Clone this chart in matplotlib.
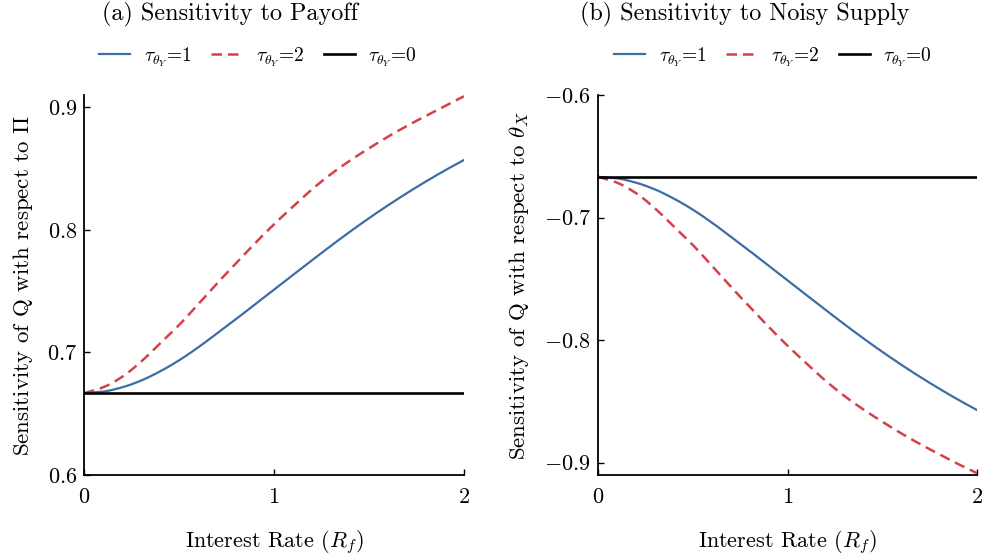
import matplotlib
matplotlib.use("Agg")
import matplotlib.pyplot as plt
import numpy as np

plt.rcParams['font.family'] = ['cmr10', 'DejaVu Serif']
plt.rcParams['mathtext.fontset'] = 'cm'
plt.rcParams['axes.formatter.use_mathtext'] = True
plt.rcParams['axes.unicode_minus'] = True

# Data
x_vals = [0.0, 0.1, 0.2, 0.3, 0.4, 0.5, 0.6, 0.7, 0.8, 0.9, 1.0,
          1.1, 1.2, 1.3, 1.4, 1.5, 1.6, 1.7, 1.8, 1.9, 2.0]

payoff_tau1 = [0.6667, 0.6680, 0.6715, 0.6770, 0.6845, 0.6935, 0.7040, 0.7155, 0.7272, 0.7392, 0.7512,
               0.7632, 0.7752, 0.7870, 0.7985, 0.8095, 0.8200, 0.8300, 0.8395, 0.8485, 0.8570]
payoff_tau2 = [0.6667, 0.6715, 0.6800, 0.6924, 0.7073, 0.7223, 0.7392, 0.7563, 0.7727, 0.7890, 0.8045,
               0.8190, 0.8330, 0.8455, 0.8565, 0.8665, 0.8760, 0.8848, 0.8930, 0.9010, 0.9090]
payoff_tau0 = [0.6667] * 21

supply_tau1 = [-0.6667, -0.6680, -0.6715, -0.6770, -0.6845, -0.6935, -0.7040, -0.7155, -0.7272, -0.7392, -0.7512,
               -0.7632, -0.7752, -0.7870, -0.7985, -0.8095, -0.8200, -0.8300, -0.8395, -0.8485, -0.8570]
supply_tau2 = [-0.6667, -0.6715, -0.6800, -0.6924, -0.7073, -0.7223, -0.7392, -0.7563, -0.7727, -0.7890, -0.8045,
               -0.8190, -0.8330, -0.8455, -0.8565, -0.8665, -0.8760, -0.8848, -0.8930, -0.9010, -0.9085]
supply_tau0 = [-0.6667] * 21

legend_labels = [r'$\tau_{\theta_Y}$=1', r'$\tau_{\theta_Y}$=2', r'$\tau_{\theta_Y}$=0']
xticks = [0, 1, 2]
yticks_a = [0.6, 0.7, 0.8, 0.9]
yticks_b = [-0.9, -0.8, -0.7, -0.6]

BLUE = '#3a6ea5'
RED = '#d6404a'

W, H = 983, 558
fig = plt.figure(figsize=(W / 100, H / 100), dpi=100)

def ax_rect(l, r, t, b):
    return [l / W, 1 - b / H, (r - l) / W, (b - t) / H]

ax1 = fig.add_axes(ax_rect(84, 464, 95, 475))
ax2 = fig.add_axes(ax_rect(598, 977, 95, 475))

xs = np.array(x_vals)

def smooth(x, y):
    # monotone cubic (PCHIP) interpolation for a smooth rendering of read points
    x = np.asarray(x, float); y = np.asarray(y, float)
    h = np.diff(x); d = np.diff(y) / h
    m = np.zeros_like(y)
    for k in range(1, len(x) - 1):
        if d[k - 1] * d[k] > 0:
            w1 = 2 * h[k] + h[k - 1]; w2 = h[k] + 2 * h[k - 1]
            m[k] = (w1 + w2) / (w1 / d[k - 1] + w2 / d[k])
    m[0] = d[0]; m[-1] = d[-1]
    xf = np.linspace(x[0], x[-1], 400)
    idx = np.clip(np.searchsorted(x, xf) - 1, 0, len(x) - 2)
    t = (xf - x[idx]) / h[idx]
    h00 = 2 * t**3 - 3 * t**2 + 1; h10 = t**3 - 2 * t**2 + t
    h01 = -2 * t**3 + 3 * t**2; h11 = t**3 - t**2
    yf = h00 * y[idx] + h10 * h[idx] * m[idx] + h01 * y[idx + 1] + h11 * h[idx] * m[idx + 1]
    return xf, yf

handles = None
for ax, y1, y2, y0, yt in [(ax1, payoff_tau1, payoff_tau2, payoff_tau0, yticks_a),
                           (ax2, supply_tau1, supply_tau2, supply_tau0, yticks_b)]:
    l1, = ax.plot(*smooth(xs, y1), color=BLUE, lw=1.6)
    l2, = ax.plot(*smooth(xs, y2), color=RED, lw=1.8, dashes=(4.2, 2.4))
    l0, = ax.plot(xs, y0, color='black', lw=1.9)
    handles = [l1, l2, l0]
    ax.set_xlim(0, 2)
    ax.set_xticks(xticks)
    ax.set_yticks(yt)
    ax.set_xticklabels([f'${v}$' for v in xticks])
    ax.set_yticklabels([f'${v}$' for v in yt])
    for s in ['top', 'right']:
        ax.spines[s].set_visible(False)
    for s in ['left', 'bottom']:
        ax.spines[s].set_linewidth(1.3)
    ax.tick_params(direction='in', length=4, width=1.0, labelsize=16)
    ax.tick_params(axis='x', pad=9)
    ax.tick_params(axis='y', pad=5)
    ax.set_xlabel(r'Interest Rate ($R_f$)', fontsize=16, labelpad=15)

ax1.set_ylim(0.6, 0.91)
ax2.set_ylim(-0.91, -0.6)
ax1.set_ylabel(r'Sensitivity of Q with respect to $\Pi$', fontsize=16.5, labelpad=9)
ax2.set_ylabel(r'Sensitivity of Q with respect to $\theta_X$', fontsize=16.5, labelpad=9)

fig.text(230 / W, 1 - 14 / H, '(a) Sensitivity to Payoff', ha='center', va='center', fontsize=17.4)
fig.text(745 / W, 1 - 14 / H, '(b) Sensitivity to Noisy Supply', ha='center', va='center', fontsize=17.4)

for cx in [258, 773]:
    fig.legend(handles, legend_labels, loc='center', bbox_to_anchor=(cx / W, 1 - 57 / H),
               ncol=3, frameon=False, fontsize=14, handlelength=1.6, handletextpad=0.7,
               columnspacing=1.0, borderpad=0)

fig.savefig('out.png', dpi=100)
